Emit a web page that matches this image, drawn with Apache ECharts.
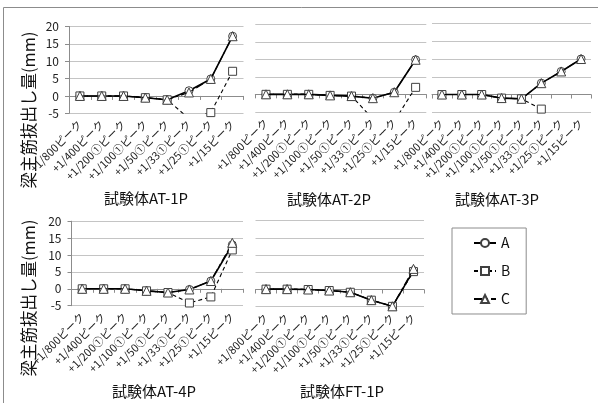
<!DOCTYPE html>
<html><head><meta charset="utf-8">
<script src="https://cdn.jsdelivr.net/npm/echarts@6/dist/echarts.min.js"></script>
<style>html,body{margin:0;padding:0;background:#fff}#c{width:598px;height:403px}</style>
</head><body><div id="c"></div>
<script>
// ---- data ----
const categories = ['+1/800ピーク','+1/400ピーク','+1/200①ピーク','+1/100①ピーク','+1/50①ピーク','+1/33①ピーク','+1/25①ピーク','+1/15ピーク'];
const seriesNames = ['A','B','C'];
const panelTitles = ['試験体AT-1P','試験体AT-2P','試験体AT-3P','試験体AT-4P','試験体FT-1P'];
const yAxisName = '梁主筋抜出し量(mm)';
const yMin = -5, yMax = 20, yStep = 5;

const at1pA = [0, 0, 0, -0.5, -1.1, 1.5, 4.9, 17.2];
const at1pB = [0, 0, 0, -0.5, -1.1, -6.5, -4.8, 7.1];
const at1pC = [0, 0, 0, -0.5, -1.1, 1.0, 4.9, 17.2];

const at2pA = [0, 0, 0, -0.3, -0.5, -1.1, 0.6, 9.9];
const at2pB = [0, 0, 0, -0.3, -0.5, -7.0, -7.7, 2.0];
const at2pC = [0, 0, 0, -0.3, -0.5, -1.1, 0.6, 9.9];

const at3pA = [0, 0, 0, -1.0, -1.2, 3.2, 6.5, 10.0];
const at3pB = [0, 0, 0, -1.0, -1.2, -4.1, null, null];
const at3pC = [0, 0, 0, -1.0, -1.2, 3.2, 6.5, 10.0];

const at4pA = [0, 0, 0, -0.6, -1.1, -0.2, 2.3, 13.0];
const at4pB = [0, 0, 0, -0.6, -1.1, -4.2, -2.4, 11.5];
const at4pC = [0, 0, 0, -0.6, -1.1, -0.2, 2.3, 13.6];

const ft1pA = [0.1, 0.1, 0, -0.3, -0.8, -3.1, -4.9, 5.5];
const ft1pB = [0.1, 0.1, 0, -0.3, -0.8, -3.1, -4.9, 5.2];
const ft1pC = [0.1, 0.1, 0, -0.3, -0.8, -3.1, -4.9, 6.0];

const panelData = [
  [at1pA, at1pB, at1pC],
  [at2pA, at2pB, at2pC],
  [at3pA, at3pB, at3pC],
  [at4pA, at4pB, at4pC],
  [ft1pA, ft1pB, ft1pC]
];

// ---- layout ----
const FONT = "'Noto Sans CJK JP', 'Noto Sans', sans-serif";
const panels = [
  {left: 69,    top: 26.5,  width: 174.5, height: 86.8, yLabels: true,  tx: 146, ty: 198, ny: 110},
  {left: 255.3, top: 24.5,  width: 171,   height: 87.3, yLabels: false, tx: 329, ty: 199},
  {left: 432,   top: 23.5,  width: 159,   height: 88.8, yLabels: false, tx: 497, ty: 199},
  {left: 71.5,  top: 221.2, width: 171.5, height: 84.5, yLabels: true,  tx: 154, ty: 391, ny: 298},
  {left: 255.5, top: 220.7, width: 168.5, height: 86,   yLabels: false, tx: 342, ty: 391}
];
const styles = [
  {symbol: 'circle',   size: 8, line: {color: '#000', width: 1.6, type: 'solid'}},
  {symbol: 'rect',     size: 8, line: {color: '#000', width: 1.1, type: [4, 3]}},
  {symbol: 'triangle', size: 9, line: {color: '#000', width: 1.1, type: [8, 3, 3, 3]}}
];

const grid = [], xAxis = [], yAxis = [], series = [], graphic = [];
graphic.push({type: 'rect', silent: true, z: -10,
  shape: {x: 3.5, y: 7.5, width: 700, height: 500},
  style: {fill: 'none', stroke: '#8c8c8c', lineWidth: 1}});

panels.forEach((p, i) => {
  grid.push({left: p.left, top: p.top, width: p.width, height: p.height});
  xAxis.push({type: 'category', gridIndex: i, data: categories, boundaryGap: true,
    axisLine: {show: true, onZero: true, lineStyle: {color: '#8c8c8c', width: 1}},
    axisTick: {show: true, length: 4, interval: 0, lineStyle: {color: '#8c8c8c'}},
    axisLabel: {show: false}, splitLine: {show: false}});
  xAxis.push({type: 'category', gridIndex: i, data: categories, boundaryGap: true, position: 'bottom',
    axisLine: {show: false, onZero: false}, axisTick: {show: false}, splitLine: {show: false},
    axisLabel: {show: true, interval: 0, rotate: 45, fontSize: 11, margin: 9, color: '#222', fontFamily: FONT}});
  yAxis.push({type: 'value', gridIndex: i, min: yMin, max: yMax, interval: yStep,
    axisLine: {show: p.yLabels, lineStyle: {color: '#8c8c8c'}},
    axisTick: {show: p.yLabels, length: 4, lineStyle: {color: '#8c8c8c'}},
    axisLabel: {show: p.yLabels, fontSize: 12, margin: 10, color: '#222', fontFamily: FONT},
    splitLine: {show: true, lineStyle: {color: '#c4c4c4', width: 1}}});
  panelData[i].forEach((d, s) => {
    series.push({type: 'line', name: seriesNames[s], xAxisIndex: 2 * i, yAxisIndex: i, data: d,
      symbol: styles[s].symbol, symbolSize: styles[s].size, showAllSymbol: true, clip: true,
      connectNulls: false, animation: false, z: 2 + s,
      itemStyle: {color: '#fff', borderColor: '#404040', borderWidth: 1},
      lineStyle: styles[s].line, emphasis: {disabled: true}});
  });
  graphic.push({type: 'text', x: p.tx, y: p.ty, silent: true,
    style: {text: panelTitles[i], fontSize: 15, fontFamily: FONT, fill: '#111', align: 'center', verticalAlign: 'middle'}});
  if (p.yLabels) {
    graphic.push({type: 'text', x: 29, y: p.ny, rotation: Math.PI / 2, silent: true,
      style: {text: yAxisName, fontSize: 16.5, fontFamily: FONT, fill: '#111', align: 'center', verticalAlign: 'middle'}});
  }
});

const chart = echarts.init(document.getElementById('c'), null, {renderer: 'canvas'});
chart.setOption({
  animation: false,
  backgroundColor: '#fff',
  grid, xAxis, yAxis, series, graphic,
  legend: {data: seriesNames, orient: 'vertical', left: 452, top: 228,
    itemWidth: 22, itemHeight: 10, itemGap: 14, padding: [8, 16, 8, 21],
    borderColor: '#8c8c8c', borderWidth: 1, selectedMode: false,
    textStyle: {fontSize: 14, color: '#111', fontFamily: FONT}}
});
</script></body></html>
